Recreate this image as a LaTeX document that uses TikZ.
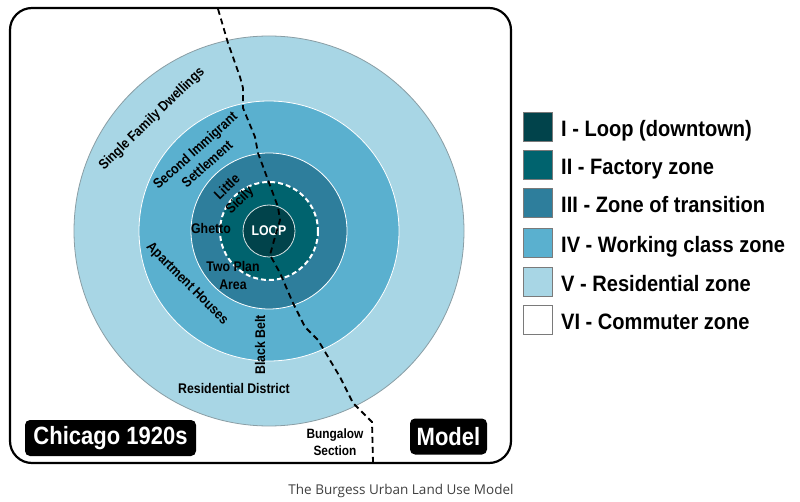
\documentclass[tikz,border=0pt]{standalone}
\usepackage{fontspec}
\setmainfont{Liberation Sans}
\newfontfamily\cond{Liberation Sans}[FakeStretch=0.88]
\newfontfamily\condw{Liberation Sans}[FakeStretch=0.9]
\newfontfamily\capfont{Open Sans}
\definecolor{zI}{HTML}{01434B}
\definecolor{zII}{HTML}{00636E}
\definecolor{zIII}{HTML}{2E7E9C}
\definecolor{zIV}{HTML}{5AB0CF}
\definecolor{zV}{HTML}{A8D6E5}
\definecolor{rimgray}{HTML}{8A9EA5}
\definecolor{boxgray}{HTML}{7A7A7A}
\begin{document}
\begin{tikzpicture}[x=1pt,y=-1pt,
  lbl/.style={font=\cond\bfseries\fontsize{14}{18}\selectfont, inner sep=0pt, align=center, text=black},
  tag/.style={font=\cond\bfseries\fontsize{25}{28}\selectfont, text=white, fill=black, rounded corners=5pt, inner sep=0pt, minimum height=36pt},
  legbox/.style={draw=boxgray, line width=1pt, minimum width=29pt, minimum height=29pt, inner sep=0pt},
  legtxt/.style={font=\condw\bfseries\fontsize{22.3}{26}\selectfont, inner sep=0pt, anchor=base west, text=black},
  border/.style={draw=black, line width=2.2pt, rounded corners=22pt},
  road/.style={draw=black, line width=1.8pt, dash pattern=on 6pt off 4pt},
  ring/.style={draw=white, line width=0.8pt}
]
\useasboundingbox (0,0) rectangle (800,502);
\fill[white] (0,0) rectangle (800,502);

% rings
\coordinate (c) at (269,231);
\draw[fill=zV, draw=rimgray, line width=0.8pt] (c) circle (195);
\draw[ring, fill=zIV] (c) circle (130);
\draw[ring, fill=zIII] (c) circle (78);
\fill[zII] (c) circle (49);
\draw[white, line width=2pt, dash pattern=on 5pt off 3pt] (c) circle (49);
\draw[ring, fill=zI, draw=white!85!zI] (c) circle (26);

% frame
\draw[border] (10,8) rectangle (511,463);

% labels
\node[lbl, rotate=44] (sfd) at (152,119) {Single Family Dwellings};
\node[lbl, rotate=42] (sis) at (201,157) {Second Immigrant\\Settlement};
\node[lbl, rotate=44] (ls) at (234,194) {Little\\Sicily};
\node[lbl] (gh) at (211,228) {Ghetto};
\node[lbl] (tpa) at (233,275) {Two Plan\\Area};
\node[lbl, text=white] (loop) at (269,231) {LOOP};
\node[lbl, rotate=-45] (ah) at (187,284) {Apartment Houses};
\node[lbl, rotate=90] (bb) at (260,345) {Black Belt};
\node[lbl] (rd) at (234,388) {Residential District};
\node[lbl, font=\cond\bfseries\fontsize{13.5}{17}\selectfont] (bs) at (335,442) {Bungalow\\Section};

% dashed boundary
\draw[road] (218,9) -- (228,43) -- (240,77) -- (243,88) -- (243,108) -- (255,137) -- (258,153)
  -- (268,180) -- (278,207) -- (280,220) -- (275,237) -- (270,255) -- (280,273) -- (293,303)
  -- (305,327) -- (318,340) -- (340,377) -- (353,403) -- (372,422) -- (373,463);

% tags
\node[tag, minimum width=171pt] (chi) at (110.5,438) {Chicago 1920s};
\node[tag, minimum width=77pt] (mod) at (448.5,436.5) {Model};

% legend
\node[legbox, fill=zI] (l1) at (538,127.5) {};
\node[legbox, fill=zII] (l2) at (538,165.5) {};
\node[legbox, fill=zIII] (l3) at (538,203.5) {};
\node[legbox, fill=zIV] (l4) at (538,243.5) {};
\node[legbox, fill=zV] (l5) at (538,282.5) {};
\node[legbox, fill=white] (l6) at (538,320.5) {};
\node[legtxt] (t1) at (561,136.5) {I - Loop (downtown)};
\node[legtxt] (t2) at (561,174.5) {II - Factory zone};
\node[legtxt] (t3) at (561,212.5) {III - Zone of transition};
\node[legtxt] (t4) at (561,252.5) {IV - Working class zone};
\node[legtxt] (t5) at (561,291.5) {V - Residential zone};
\node[legtxt] (t6) at (561,329.5) {VI - Commuter zone};

% caption
\node[font=\capfont\fontsize{13.5}{16}\selectfont, text=black!75, inner sep=0pt] (cap) at (401,491) {The Burgess Urban Land Use Model};
\end{tikzpicture}
\end{document}
